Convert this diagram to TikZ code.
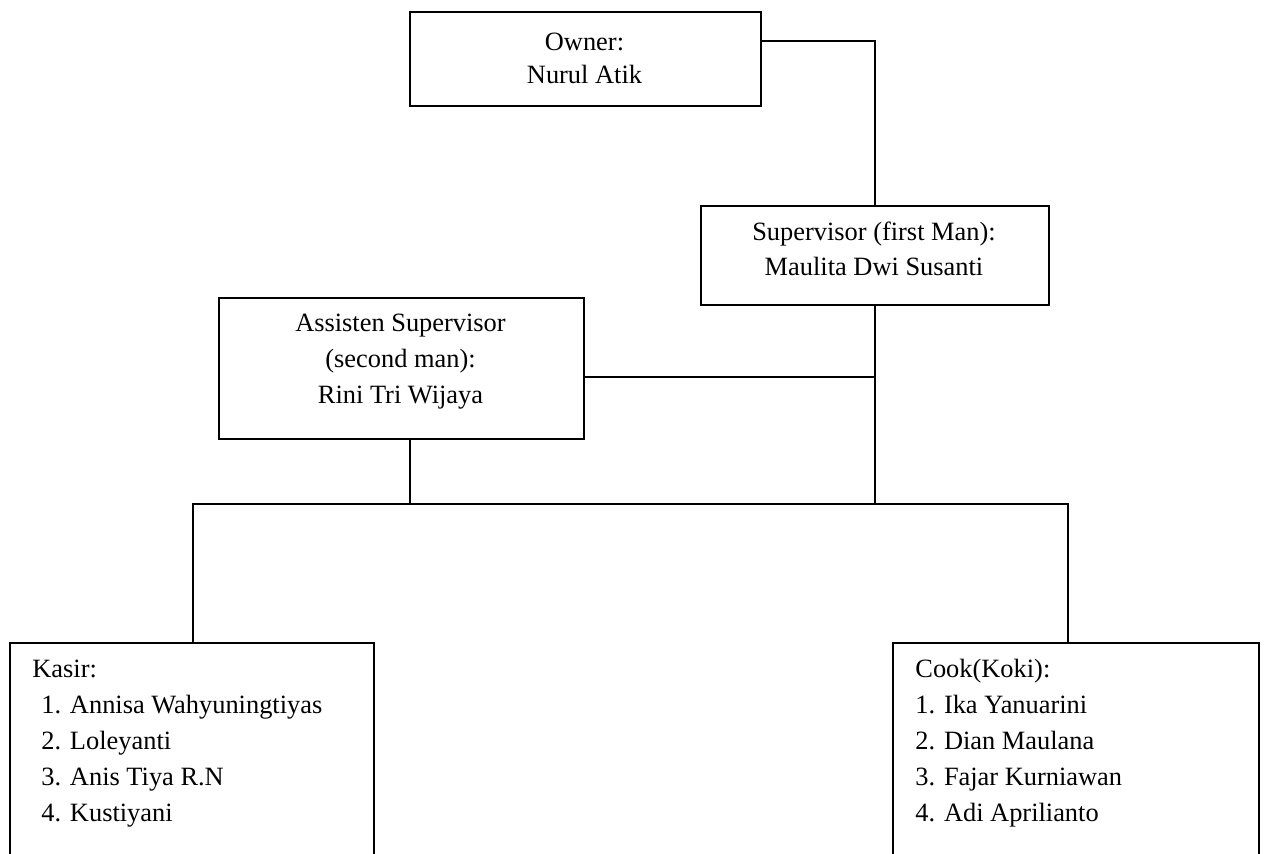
\documentclass[tikz,border=0pt]{standalone}
\usepackage{fontspec}
\setmainfont{Liberation Serif}
\begin{document}
\begin{tikzpicture}[x=0.5pt,y=-0.5pt,
  box/.style={draw=black,line width=1.1pt,inner sep=0pt,anchor=north west},
  openbox/.style={inner sep=0pt,anchor=north west},
  conn/.style={draw=black,line width=1pt},
  txt/.style={inner sep=0pt,font=\fontsize{13.2pt}{18pt}\selectfont},
]
\useasboundingbox (0,0) rectangle (1264,853);
% boxes
\node[box,minimum width=175.5pt,minimum height=47pt] (owner) at (409,11) {};
\node[box,minimum width=174pt,minimum height=49.5pt] (sup) at (700,205) {};
\node[box,minimum width=182.5pt,minimum height=70.5pt] (asst) at (218,297) {};
\node[openbox,minimum width=181.5pt,minimum height=105pt] (kasir) at (10,643) {};
\node[openbox,minimum width=182.5pt,minimum height=105pt] (cook) at (893,643) {};
\draw[conn,line width=1.1pt] (kasir.south west) |- (kasir.north east) -- (kasir.south east);
\draw[conn,line width=1.1pt] (cook.south west) |- (cook.north east) -- (cook.south east);
% texts
\node[txt,align=center,anchor=north,font=\fontsize{13.2pt}{16.8pt}\selectfont] (ownert) at (584.5,32.5) {Owner:\\Nurul Atik};
\node[txt,align=center,anchor=north,font=\fontsize{13.2pt}{17.5pt}\selectfont] (supt) at (874,221.5) {Supervisor (first Man):\\Maulita Dwi Susanti};
\node[txt,align=center,anchor=north] (asstt) at (400.5,314) {Assisten Supervisor\\(second man):\\Rini Tri Wijaya};
\node[txt,align=left,anchor=north west] (kasirt) at (32,659.5) {Kasir:\\\hspace{4.5pt}1. Annisa Wahyuningtiyas\\\hspace{4.5pt}2. Loleyanti\\\hspace{4.5pt}3. Anis Tiya R.N\\\hspace{4.5pt}4. Kustiyani};
\node[txt,align=left,anchor=north west] (cookt) at (915,658.7) {Cook(Koki):\\1. Ika Yanuarini\\2. Dian Maulana\\3. Fajar Kurniawan\\4. Adi Aprilianto};
% connector points
\coordinate (busL) at (193,504);
\coordinate (busR) at (1068,504);
\coordinate (aj) at (410,504);
% connectors
\draw[conn] ([yshift=9pt]owner.east) -| (sup.north);
\draw[conn] (sup.south) -- (sup.south |- busL);
\draw[conn] ([yshift=-4.25pt]asst.east) -- ([yshift=-4.25pt]asst.east -| sup.south);
\draw[conn] (aj |- asst.south) -- (aj);
\draw[conn] (busL |- kasir.north) -- (busL) -- (busR) -- (busR |- cook.north);
\end{tikzpicture}
\end{document}
